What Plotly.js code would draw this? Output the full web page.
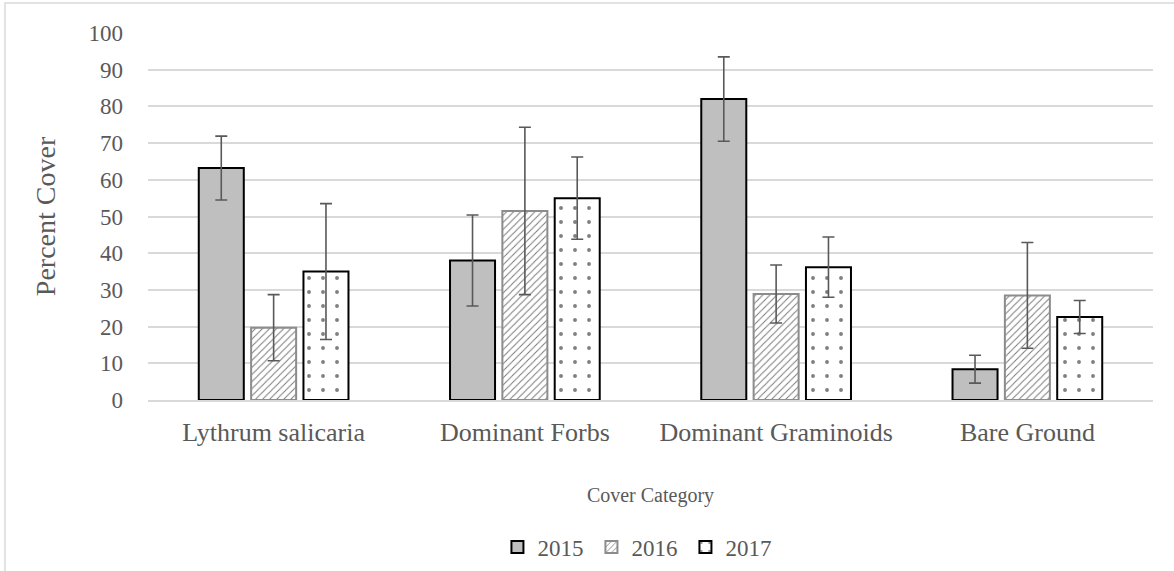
<!DOCTYPE html>
<html>
<head>
<meta charset="utf-8">
<script src="https://cdn.plot.ly/plotly-3.0.1.min.js"></script>
<style>html,body{margin:0;padding:0;background:#fff;}#chart{width:1174px;height:571px;}</style>
</head>
<body>
<div id="chart"></div>
<script>
const categories = ["Lythrum salicaria", "Dominant Forbs", "Dominant Graminoids", "Bare Ground"];
const years = ["2015", "2016", "2017"];
const cover2015 = [63.2, 38.0, 82.0, 8.4];
const cover2016 = [19.7, 51.5, 28.9, 28.5];
const cover2017 = [35.0, 55.0, 36.2, 22.6];
const err2015 = [8.7, 12.4, 11.5, 3.8];
const err2016 = [9.0, 22.8, 7.9, 14.4];
const err2017 = [18.5, 11.2, 8.2, 4.5];
const yTicks = [0, 10, 20, 30, 40, 50, 60, 70, 80, 90, 100];

const errStyle = (arr) => ({type: 'data', array: arr, visible: true, color: '#595959', thickness: 1.6, width: 6});

const traces = [
  {type: 'bar', name: years[0], x: categories, y: cover2015, error_y: errStyle(err2015),
   marker: {color: '#bfbfbf', line: {color: '#000000', width: 2}}},
  {type: 'bar', name: years[1], x: categories, y: cover2016, error_y: errStyle(err2016),
   marker: {color: '#ffffff', line: {color: '#8c8c8c', width: 2},
     pattern: {shape: '/', fgcolor: '#7a7a7a', bgcolor: '#ffffff', size: 5, solidity: 0.2}}},
  {type: 'bar', name: years[2], x: categories, y: cover2017, error_y: errStyle(err2017),
   marker: {color: '#ffffff', line: {color: '#000000', width: 2},
     pattern: {shape: '.', fgcolor: '#808080', bgcolor: '#ffffff', size: 14, solidity: 0.06}}}
];

const fam = '"Liberation Serif", "Times New Roman", serif';
const grey = '#595959';

const layout = {
  width: 1174, height: 571,
  margin: {l: 148, r: 21, t: 33, b: 171},
  paper_bgcolor: '#ffffff', plot_bgcolor: '#ffffff',
  font: {family: fam, color: grey},
  barmode: 'group', bargap: 0.375, bargroupgap: 0.14,
  showlegend: true,
  legend: {orientation: 'h', xref: 'paper', yref: 'container', x: 0.488, xanchor: 'center', y: 0.042, yanchor: 'middle',
    font: {family: fam, color: grey, size: 23}, entrywidth: 49, entrywidthmode: 'pixels',
    traceorder: 'normal'},
  xaxis: {
    type: 'category', automargin: false, showgrid: false, showline: true, linecolor: '#d9d9d9', linewidth: 2,
    tickfont: {size: 26, family: fam, color: grey}, ticks: '', ticklabelstandoff: 8,
    title: {text: 'Cover Category', font: {size: 20, family: fam, color: grey}, standoff: 42}
  },
  yaxis: {
    range: [0, 100], automargin: false, tickvals: yTicks, ticktext: yTicks.map(String),
    showgrid: true, gridcolor: '#d9d9d9', gridwidth: 2, zeroline: false, showline: false,
    tickfont: {size: 23, family: fam, color: grey}, ticks: '', ticklabelstandoff: 24,
    title: {text: 'Percent Cover', font: {size: 28, family: fam, color: grey}, standoff: 24}
  },
  shapes: [{type: 'rect', xref: 'paper', yref: 'paper',
    x0: -0.1423, x1: 1.2, y0: -0.7, y1: 1.0818,
    line: {color: '#d9d9d9', width: 1.5}, fillcolor: 'rgba(0,0,0,0)', layer: 'below'}]
};

Plotly.newPlot('chart', traces, layout, {displayModeBar: false, staticPlot: true});
</script>
</body>
</html>
